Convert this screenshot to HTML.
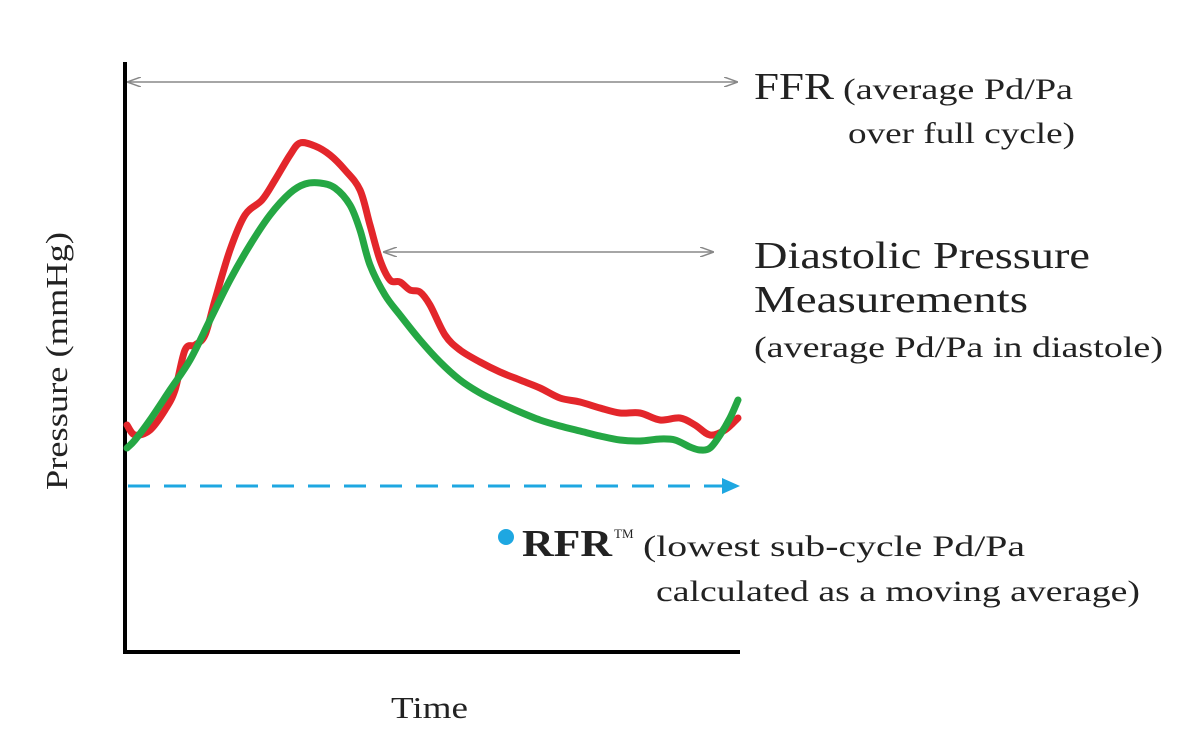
<!DOCTYPE html>
<html><head><meta charset="utf-8"><style>
html,body{margin:0;padding:0;background:#fff;}
svg{display:block;}
text{font-family:"Liberation Serif",serif;fill:#222;}
</style></head><body>
<svg id="chart" width="1200" height="746" viewBox="0 0 1200 746">
<defs>
<marker id="ag" markerWidth="14" markerHeight="10" refX="13" refY="5" orient="auto-start-reverse" markerUnits="userSpaceOnUse"><path d="M0,0 L14,5 L0,10" fill="none" stroke="#888" stroke-width="1.5"/></marker>
<marker id="ab" markerWidth="18" markerHeight="16" refX="16" refY="8" orient="auto" markerUnits="userSpaceOnUse"><path d="M0,0 L18,8 L0,16 Z" fill="#1ea7e1"/></marker>
</defs>
<line x1="125" y1="62" x2="125" y2="654" stroke="#000" stroke-width="4"/>
<line x1="123" y1="652" x2="740" y2="652" stroke="#000" stroke-width="4"/>
<line x1="128" y1="82" x2="737" y2="82" stroke="#888" stroke-width="1.5" marker-start="url(#ag)" marker-end="url(#ag)"/>
<line x1="384" y1="252" x2="713" y2="252" stroke="#888" stroke-width="1.5" marker-start="url(#ag)" marker-end="url(#ag)"/>
<line x1="128" y1="486" x2="738" y2="486" stroke="#1ea7e1" stroke-width="3" stroke-dasharray="22,14" marker-end="url(#ab)"/>
<g id="series"></g>
<text x="754" y="99" font-size="38" textLength="80" lengthAdjust="spacingAndGlyphs">FFR</text>
<text x="843" y="99" font-size="30" textLength="230" lengthAdjust="spacingAndGlyphs">(average Pd/Pa</text>
<text x="848" y="143" font-size="30" textLength="227" lengthAdjust="spacingAndGlyphs">over full cycle)</text>
<text x="754" y="268" font-size="38" textLength="336" lengthAdjust="spacingAndGlyphs">Diastolic Pressure</text>
<text x="754" y="312" font-size="38" textLength="274" lengthAdjust="spacingAndGlyphs">Measurements</text>
<text x="754" y="357" font-size="30" textLength="409" lengthAdjust="spacingAndGlyphs">(average Pd/Pa in diastole)</text>
<circle cx="506" cy="537" r="8" fill="#1ea7e1"/>
<text x="522" y="556" font-size="38" font-weight="bold" fill="#111" textLength="90" lengthAdjust="spacingAndGlyphs">RFR</text>
<text x="614" y="538" font-size="13" fill="#111">TM</text>
<text x="643" y="556" font-size="30" textLength="382" lengthAdjust="spacingAndGlyphs">(lowest sub-cycle Pd/Pa</text>
<text x="656" y="601" font-size="30" textLength="484" lengthAdjust="spacingAndGlyphs">calculated as a moving average)</text>
<text x="391" y="718" font-size="31" textLength="77" lengthAdjust="spacingAndGlyphs">Time</text>
<text x="0" y="0" font-size="31" textLength="258" lengthAdjust="spacingAndGlyphs" transform="translate(67,490) rotate(-90)">Pressure (mmHg)</text>
</svg>
<script>
const timeRed=[0,8,23,38,48,58,68,78,88,103,118,135,148,163,173,188,203,218,233,243,253,263,273,283,293,303,318,333,353,373,393,413,433,453,473,493,513,533,553,568,583,598,611];
const pressureRed=[225,215,220,240,260,300,305,315,350,400,435,450,470,495,507,504,495,480,460,425,390,370,368,360,358,345,315,300,288,278,270,262,252,248,242,237,237,230,232,225,215,220,232];
const timeGreen=[0,8,23,43,63,83,103,123,143,163,178,193,208,223,233,243,258,273,293,313,333,353,373,393,413,433,453,473,493,513,533,548,563,573,583,593,603,611];
const pressureGreen=[202,210,230,260,290,330,370,405,435,457,466,467,462,445,420,385,355,335,310,288,270,257,247,238,230,224,219,214,210,209,211,210,203,200,202,215,232,250];
const xScale=t=>127+t;
const yScale=v=>650-v;
function pathFrom(ts,vs){
  const p=ts.map((t,i)=>[xScale(t),yScale(vs[i])]);
  let d='M'+p[0][0]+','+p[0][1];
  for(let i=0;i<p.length-1;i++){
    const p0=p[i-1]||p[i],p1=p[i],p2=p[i+1],p3=p[i+2]||p2;
    const c1=[p1[0]+(p2[0]-p0[0])/6,p1[1]+(p2[1]-p0[1])/6];
    const c2=[p2[0]-(p3[0]-p1[0])/6,p2[1]-(p3[1]-p1[1])/6];
    d+=' C'+c1.join(',')+' '+c2.join(',')+' '+p2.join(',');
  }
  return d;
}
const g=document.getElementById('series');
const ns='http://www.w3.org/2000/svg';
const red=document.createElementNS(ns,'path');
red.setAttribute('d',pathFrom(timeRed,pressureRed));
red.setAttribute('fill','none');red.setAttribute('stroke','#e3262b');red.setAttribute('stroke-width','7');red.setAttribute('stroke-linejoin','round');red.setAttribute('stroke-linecap','round');


g.appendChild(red);
const green=document.createElementNS(ns,'path');
green.setAttribute('d',pathFrom(timeGreen,pressureGreen));
green.setAttribute('fill','none');green.setAttribute('stroke','#25a744');green.setAttribute('stroke-width','7');green.setAttribute('stroke-linejoin','round');green.setAttribute('stroke-linecap','round');


g.appendChild(green);
</script>
</body></html>
